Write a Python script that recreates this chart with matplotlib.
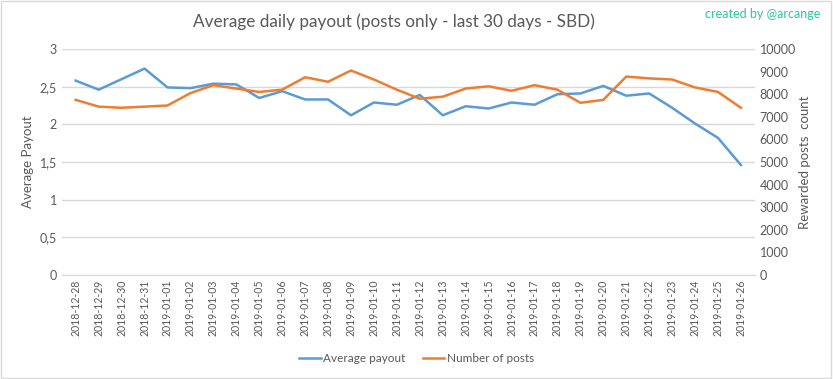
import matplotlib
matplotlib.use("Agg")
import matplotlib.pyplot as plt
from matplotlib.ticker import FuncFormatter

plt.rcParams['font.family'] = ['Lato', 'DejaVu Sans']

dates = ['2018-12-28', '2018-12-29', '2018-12-30', '2018-12-31',
         '2019-01-01', '2019-01-02', '2019-01-03', '2019-01-04', '2019-01-05',
         '2019-01-06', '2019-01-07', '2019-01-08', '2019-01-09', '2019-01-10',
         '2019-01-11', '2019-01-12', '2019-01-13', '2019-01-14', '2019-01-15',
         '2019-01-16', '2019-01-17', '2019-01-18', '2019-01-19', '2019-01-20',
         '2019-01-21', '2019-01-22', '2019-01-23', '2019-01-24', '2019-01-25',
         '2019-01-26']
avg_payout = [2.58, 2.46, 2.60, 2.74, 2.49, 2.48, 2.54, 2.53, 2.35, 2.44,
              2.33, 2.33, 2.12, 2.29, 2.26, 2.39, 2.12, 2.24, 2.21, 2.29,
              2.26, 2.40, 2.41, 2.51, 2.38, 2.41, 2.22, 2.01, 1.82, 1.46]
num_posts = [7750, 7450, 7400, 7450, 7500, 8050, 8400, 8250, 8100, 8200,
             8750, 8550, 9050, 8650, 8200, 7800, 7890, 8250, 8350, 8150,
             8400, 8200, 7620, 7750, 8780, 8700, 8650, 8300, 8100, 7400]

grey = '#595959'
blue = '#5b9bd5'
orange = '#ed7d31'

fig = plt.figure(figsize=(8.33, 3.79), dpi=100)
ax = fig.add_axes([0.0744, 0.2744, 0.8316, 0.5963])
ax2 = ax.twinx()

x = range(len(dates))
ax.plot(x, avg_payout, color=blue, lw=1.8, label='Average payout')
ax2.plot(x, num_posts, color=orange, lw=1.8, label='Number of posts')

ax.set_xlim(-0.6, len(dates) - 0.4)
ax.set_ylim(0, 3)
ax2.set_ylim(0, 10000)
ax.set_yticks([0, 0.5, 1, 1.5, 2, 2.5, 3])
ax.yaxis.set_major_formatter(FuncFormatter(lambda v, p: f'{v:g}'.replace('.', ',')))
ax2.set_yticks(range(0, 10001, 1000))

ax.grid(axis='y', color='#d9d9d9', lw=1)
ax.set_axisbelow(True)
for a in (ax, ax2):
    for s in a.spines.values():
        s.set_visible(False)
    a.tick_params(length=0, colors=grey, labelsize=9)
ax.spines['bottom'].set_visible(True)
ax.spines['bottom'].set_color('#d9d9d9')

ax.set_xticks(list(x))
ax.set_xticklabels(dates, rotation=90, fontsize=7.6)
ax.set_ylabel('Average Payout', color=grey, fontsize=9.5)
ax2.set_ylabel('Rewarded posts  count', color=grey, fontsize=9.5, labelpad=2)

fig.text(0.473, 0.942, 'Average daily payout (posts only - last 30 days - SBD)',
         ha='center', va='center', fontsize=12.3, color=grey)
fig.text(0.985, 0.962, 'created by @arcange', ha='right', va='center',
         fontsize=9, color='#2ec4a0')

h1, l1 = ax.get_legend_handles_labels()
h2, l2 = ax2.get_legend_handles_labels()
fig.legend(h1 + h2, l1 + l2, loc='center', bbox_to_anchor=(0.5, 0.055), ncol=2,
           frameon=False, fontsize=8.5, labelcolor=grey, handlelength=1.8,
           columnspacing=1.5, handletextpad=0.2)

fig.patches.append(plt.Rectangle((0.001, 0.002), 0.997, 0.996, transform=fig.transFigure,
                                 fill=False, edgecolor='#d9d9d9', lw=1))

fig.savefig('out.png', dpi=100, facecolor='white')
